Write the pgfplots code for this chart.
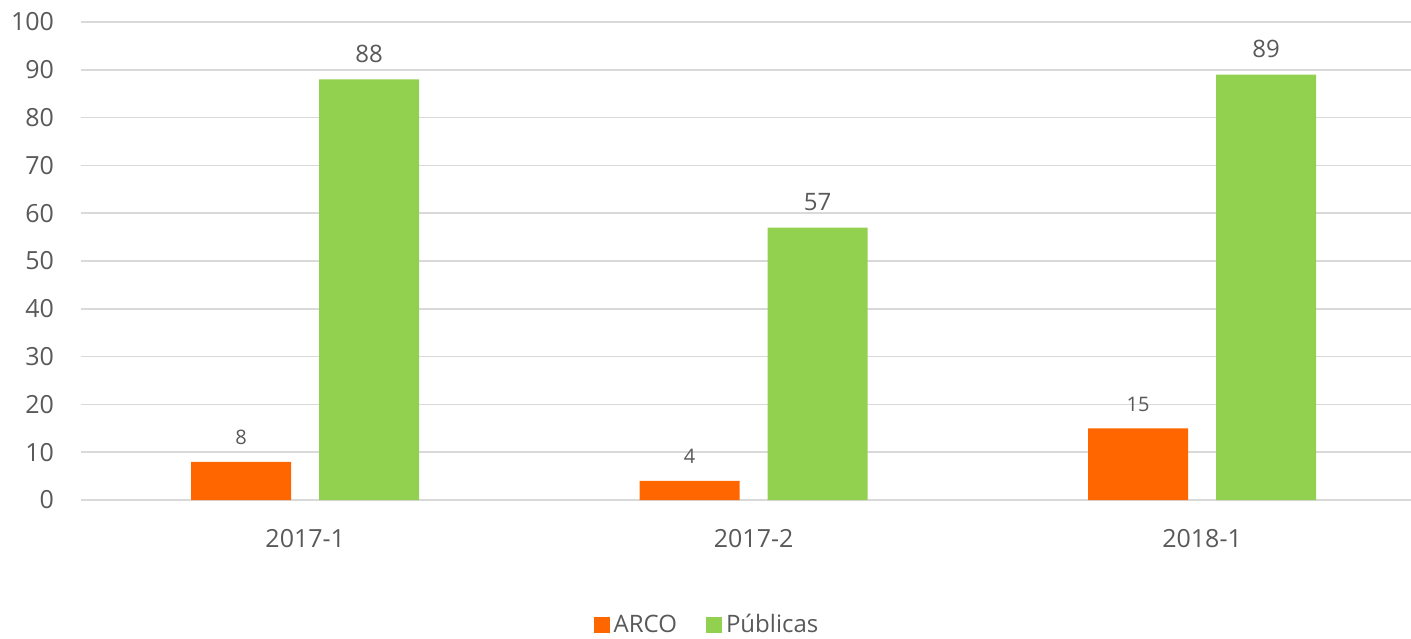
\documentclass[border=0pt]{standalone}
\usepackage{fontspec}
\setmainfont{Open Sans}
\usepackage{pgfplots}
\pgfplotsset{compat=1.18}
\definecolor{arco}{HTML}{FF6600}
\definecolor{pub}{HTML}{92D050}
\definecolor{txt}{HTML}{595959}
\definecolor{gridc}{HTML}{D9D9D9}
\begin{document}
\begin{tikzpicture}
\useasboundingbox (0,0) rectangle (705.5pt,319pt);
\begin{axis}[
  at={(40.5pt,69pt)}, anchor=south west,
  width=665pt, height=239pt, scale only axis,
  xmin=-0.5, xmax=2.466, ymin=0, ymax=100,
  ybar=14pt, bar width=50pt,
  xtick={0,1,2}, xticklabels={2017-1,2017-2,2018-1},
  ytick={0,10,...,100},
  ymajorgrids, major grid style={draw=gridc, line width=0.8pt},
  axis x line*=bottom, axis y line*=left,
  x axis line style={draw=gridc, line width=1.3pt},
  y axis line style={draw=none},
  major tick length=0pt,
  /pgf/number format/assume math mode=true,
  yticklabel style={font=\fontsize{12.5}{15}\selectfont, text=txt, xshift=-10pt},
  xticklabel style={font=\fontsize{12.5}{15}\selectfont, text=txt, yshift=-11pt},
  legend style={at={(0.4714,-0.2615)}, anchor=center, draw=none, fill=none,
    legend columns=2, font=\fontsize{12}{14}\selectfont, text=txt,
    /tikz/every even column/.append style={column sep=12.5pt}},
  legend cell align=left,
  legend image code/.code={\fill[#1] (-1.5pt,-4pt) rectangle (6.5pt,4pt);},
  nodes near coords,
]
\addplot[fill=arco, draw=none,
  every node near coord/.append style={font=\fontsize{10}{12}\selectfont, text=txt, yshift=5pt}]
  coordinates {(0,8) (1,4) (2,15)};
\addplot[fill=pub, draw=none,
  every node near coord/.append style={font=\fontsize{12}{14}\selectfont, text=txt, yshift=5pt}]
  coordinates {(0,88) (1,57) (2,89)};
\legend{ARCO, Públicas}
\end{axis}
\end{tikzpicture}
\end{document}
